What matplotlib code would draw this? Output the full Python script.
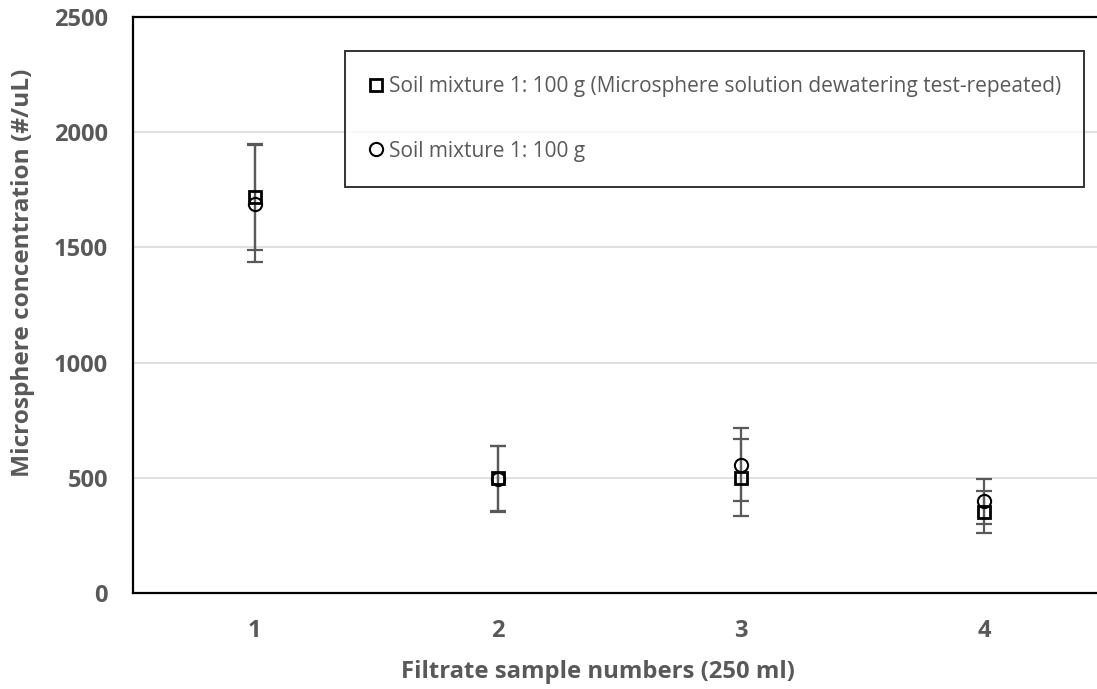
import matplotlib
matplotlib.use("Agg")
import matplotlib.pyplot as plt
from matplotlib.lines import Line2D

# ---- data ----
samples = [1, 2, 3, 4]
tick_labels = ["1", "2", "3", "4"]
repeated_mean = [1720, 497, 501, 351]
repeated_err = [230, 143, 167, 92]
original_mean = [1690, 495, 557, 398]
original_err = [255, 143, 159, 97]
label_repeated = "Soil mixture 1: 100 g (Microsphere solution dewatering test-repeated)"
label_original = "Soil mixture 1: 100 g"
yticks = [0, 500, 1000, 1500, 2000, 2500]

GREY = "#595959"
plt.rcParams['font.family'] = ['Open Sans', 'DejaVu Sans']

fig = plt.figure(figsize=(10.97, 6.89), dpi=100)
ax = fig.add_axes([133/1097, 96/689, 972.5/1097, 576/689])

# gridlines
for v in yticks[1:-1]:
    ax.axhline(v, color="#d9d9d9", lw=1.2, zorder=0)

# error bars
ax.errorbar(samples, repeated_mean, yerr=repeated_err, fmt='none', ecolor=GREY,
            elinewidth=1.6, capsize=6, capthick=1.6, zorder=2)
ax.errorbar(samples, original_mean, yerr=original_err, fmt='none', ecolor=GREY,
            elinewidth=1.6, capsize=6, capthick=1.6, zorder=2)

# markers
ax.plot(samples, original_mean, linestyle='none', marker='o', markersize=9.5,
        markerfacecolor='none', markeredgecolor='black', markeredgewidth=1.5, zorder=3)
ax.plot(samples, repeated_mean, linestyle='none', marker='s', markersize=9.3,
        markerfacecolor='none', markeredgecolor='black', markeredgewidth=2.0, zorder=4)

ax.set_xlim(0.5, 4.5)
ax.set_ylim(0, 2500)
ax.set_xticks(samples)
ax.set_xticklabels(tick_labels)
ax.set_yticks(yticks)
ax.tick_params(axis='both', length=0, labelsize=17, colors=GREY)
ax.tick_params(axis='y', pad=18)
ax.tick_params(axis='x', pad=19)
for lab in ax.get_xticklabels() + ax.get_yticklabels():
    lab.set_fontweight('bold')

for s in ['left', 'top', 'bottom']:
    ax.spines[s].set_color('black')
    ax.spines[s].set_linewidth(1.6)
ax.spines['right'].set_visible(False)

ax.set_xlabel("Filtrate sample numbers (250 ml)", fontsize=17.2, fontweight='bold',
              color=GREY)
ax.xaxis.set_label_coords((598 - 133) / 972.5, (593 - 660) / 576)
ax.set_ylabel("Microsphere concentration (#/uL)", fontsize=17.6, fontweight='bold',
              color=GREY)
ax.yaxis.set_label_coords((35 - 133) / 972.5, (593 - 272.5) / 576)

handles = [
    Line2D([], [], linestyle='none', marker='s', markersize=9.3, markerfacecolor='none',
           markeredgecolor='black', markeredgewidth=2.0),
    Line2D([], [], linestyle='none', marker='o', markersize=9.5, markerfacecolor='none',
           markeredgecolor='black', markeredgewidth=1.5),
]
leg = fig.legend(handles, [label_repeated, label_original], loc='upper left',
                 bbox_to_anchor=(345/1097, 1 - 184/689, 739/1097, 133/689),
                 bbox_transform=fig.transFigure, mode='expand',
                 fontsize=15, frameon=True, fancybox=False, edgecolor='black',
                 labelspacing=2.1, handlelength=0.6, handletextpad=0.3,
                 borderpad=1.2, borderaxespad=0)
leg.get_frame().set_linewidth(1.4)
for t in leg.get_texts():
    t.set_color(GREY)

fig.savefig("out.png", dpi=100)
